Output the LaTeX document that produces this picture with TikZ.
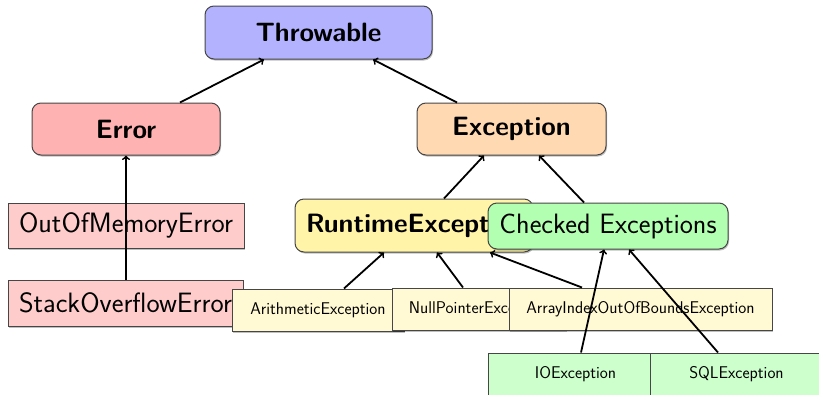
\documentclass[tikz,border=0pt]{standalone}
\usetikzlibrary{shadows}
\definecolor{cThrow}{RGB}{178,178,255}
\definecolor{cErr}{RGB}{255,178,178}
\definecolor{cExc}{RGB}{255,217,178}
\definecolor{cRun}{RGB}{255,244,168}
\definecolor{cChk}{RGB}{178,255,178}
\definecolor{cErrSub}{RGB}{255,204,204}
\definecolor{cRunSub}{RGB}{255,250,212}
\definecolor{cChkSub}{RGB}{204,255,204}
\definecolor{cBorder}{RGB}{70,70,70}
\tikzset{
  shad/.style={drop shadow={shadow xshift=1pt,shadow yshift=-1.5pt,opacity=0.25,fill=black}},
  mainbox/.style={draw=cBorder,line width=1pt,rounded corners=9pt,inner sep=0pt,shad,
    font=\sffamily\bfseries\fontsize{26.5}{31}\selectfont},
  chkbox/.style={draw=cBorder,line width=1pt,rounded corners=9pt,inner sep=0pt,shad,
    font=\sffamily\fontsize{28}{33}\selectfont},
  bigleaf/.style={draw=cBorder,line width=1pt,inner sep=0pt,shad,
    font=\sffamily\fontsize{28}{33}\selectfont},
  smallleaf/.style={draw=cBorder,line width=1pt,inner sep=0pt,shad,minimum height=42pt,
    font=\sffamily\fontsize{17}{20}\selectfont},
  arr/.style={->,line width=1.8pt,black},
}
\begin{document}
\begin{tikzpicture}[x=1pt,y=-1pt]
\useasboundingbox (0,0) rectangle (819,394);
\node[mainbox,fill=cThrow,minimum width=227pt,minimum height=53pt] (throwable) at (318.5,32.5) {Throwable};
\node[mainbox,fill=cErr,minimum width=188pt,minimum height=52pt] (error) at (126,129) {Error};
\node[mainbox,fill=cExc,minimum width=189pt,minimum height=52pt] (exception) at (511.5,129) {Exception};
\node[bigleaf,fill=cErrSub,minimum width=236pt,minimum height=45pt] (oom) at (126,225.5) {OutOfMemoryError};
\node[bigleaf,fill=cErrSub,minimum width=235pt,minimum height=46pt] (soe) at (125.5,303) {StackOverflowError};
\node[mainbox,fill=cRun,inner xsep=11pt,minimum height=53pt] (runtime) at (414,225.5) {\makebox[216pt][l]{RuntimeException}};
\node[chkbox,fill=cChk,minimum width=240pt,minimum height=46pt] (checked) at (608,226) {Checked Exceptions};
\node[smallleaf,fill=cRunSub,minimum width=172pt] (arith) at (318,310) {ArithmeticException};
\node[smallleaf,fill=cRunSub,minimum width=174pt] (nullp) at (479,309) {NullPointerException};
\node[smallleaf,fill=cRunSub,minimum width=263pt] (aioobe) at (640.5,309) {ArrayIndexOutOfBoundsException};
\node[smallleaf,fill=cChkSub,minimum width=175pt] (ioe) at (575.5,374) {IOException};
\node[smallleaf,fill=cChkSub,minimum width=173pt] (sqle) at (736.5,374) {SQLException};
\draw[arr] ([xshift=54pt]error.north) -- ([xshift=-54.5pt]throwable.south);
\draw[arr] ([xshift=-54.5pt]exception.north) -- ([xshift=54.5pt]throwable.south);
\draw[arr] ([xshift=30pt]runtime.north) -- ([xshift=-27.5pt]exception.south);
\draw[arr] ([xshift=-24pt]checked.north) -- ([xshift=27.5pt]exception.south);
\draw[arr] ([xshift=0.5pt]soe.north) -- (error.south);
\draw[arr] ([xshift=26pt]arith.north) -- ([xshift=-30pt]runtime.south);
\draw[arr] ([xshift=-16pt]nullp.north) -- ([xshift=23pt]runtime.south);
\draw[arr] ([xshift=-58.5pt]aioobe.north) -- ([xshift=76pt]runtime.south);
\draw[arr] ([xshift=5.5pt]ioe.north) -- ([xshift=-4pt]checked.south);
\draw[arr] ([xshift=-18.5pt]sqle.north) -- ([xshift=21pt]checked.south);
\end{tikzpicture}
\end{document}
